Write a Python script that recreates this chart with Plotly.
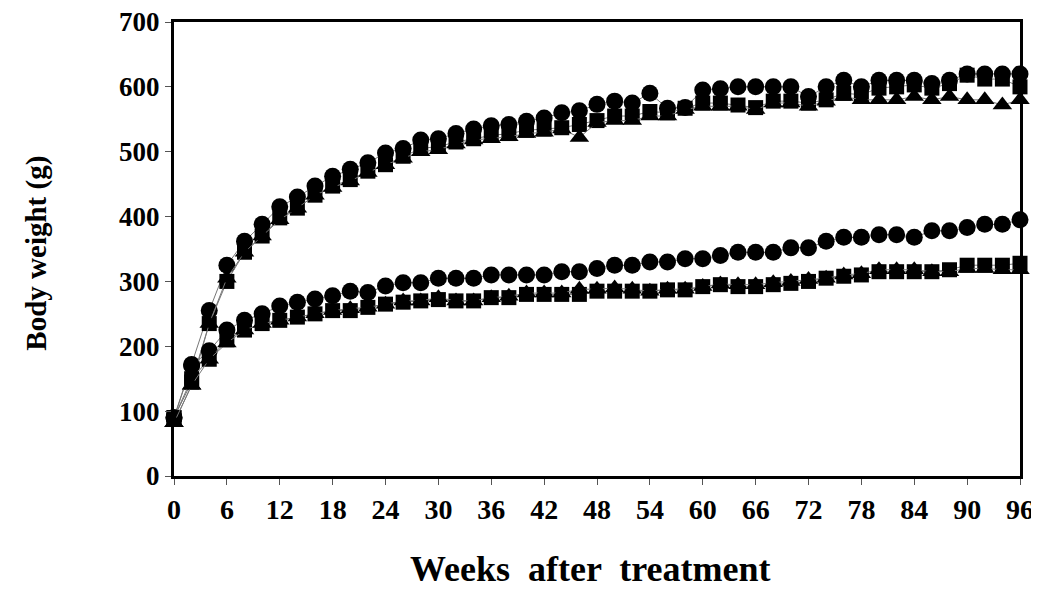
import plotly.graph_objects as go

weeks = list(range(0, 97, 2))

male_circle = [90, 172, 255, 325, 362, 388, 415, 430, 447, 462, 473, 483, 498, 505, 518, 520, 528, 535, 540, 542,
               547, 552, 560, 563, 573, 578, 575, 590, 567, 568, 595, 597, 600, 600, 600, 600, 585, 600, 610, 600,
               610, 610, 610, 605, 610, 620, 620, 620, 620]
male_square = [90, 145, 235, 300, 345, 370, 398, 413, 433, 447, 457, 470, 480, 493, 505, 508, 515, 520, 525, 528,
               533, 535, 537, 542, 548, 555, 555, 562, 560, 567, 575, 575, 572, 568, 578, 578, 575, 580, 590, 588,
               598, 600, 603, 598, 605, 618, 612, 612, 600]
male_triangle = [82, 140, 235, 305, 345, 370, 395, 413, 433, 445, 455, 468, 480, 490, 500, 503, 512, 518, 520, 523,
                 528, 530, 535, 522, 545, 548, 548, 555, 555, 565, 570, 570, 570, 565, 575, 575, 570, 578, 585, 580,
                 580, 580, 585, 580, 585, 580, 580, 572, 580]
female_circle = [90, 170, 193, 225, 240, 250, 262, 268, 273, 278, 285, 283, 293, 298, 298, 305, 305, 305, 310, 310,
                 310, 310, 315, 315, 320, 325, 325, 330, 330, 335, 335, 340, 345, 345, 345, 352, 352, 362, 368, 368,
                 372, 372, 368, 378, 378, 383, 388, 388, 395]
female_square = [90, 150, 180, 210, 225, 235, 240, 245, 250, 255, 255, 260, 265, 268, 270, 272, 270, 270, 275, 275,
                 280, 280, 280, 280, 285, 285, 285, 285, 287, 287, 292, 295, 292, 292, 295, 297, 300, 305, 308, 310,
                 315, 315, 315, 315, 318, 325, 325, 325, 328]
female_triangle = [82, 140, 180, 205, 225, 235, 240, 245, 250, 255, 258, 260, 265, 270, 270, 275, 270, 270, 275, 277,
                   282, 282, 282, 288, 288, 290, 288, 285, 288, 288, 292, 296, 295, 295, 298, 300, 303, 305, 310, 312,
                   318, 318, 318, 315, 315, 320, 320, 318, 318]

x_ticks = list(range(0, 97, 6))
y_ticks = list(range(0, 701, 100))
x_title = "Weeks  after  treatment"
y_title = "Body weight (g)"

series = [
    ("Male circle", male_circle, "circle", 17),
    ("Male square", male_square, "square", 15),
    ("Male triangle", male_triangle, "triangle-up", 17),
    ("Female circle", female_circle, "circle", 17),
    ("Female square", female_square, "square", 15),
    ("Female triangle", female_triangle, "triangle-up", 17),
]

fig = go.Figure()
for name, vals, sym, size in series:
    fig.add_trace(go.Scatter(
        x=weeks, y=vals, name=name, mode="lines+markers",
        line=dict(color="#777777", width=1),
        marker=dict(symbol=sym, size=size, color="black", line=dict(width=0)),
        cliponaxis=False, showlegend=False,
    ))

font_family = "Liberation Serif, Times New Roman, serif"
fig.update_layout(
    width=1039, height=594,
    margin=dict(l=166, r=27, t=14, b=126),
    paper_bgcolor="white", plot_bgcolor="white",
    font=dict(family=font_family, color="black"),
    xaxis=dict(
        range=[0, 96], tickvals=x_ticks, ticktext=[f"<b>{v}</b>" for v in x_ticks],
        ticks="outside", ticklen=6, tickcolor="#555555", tickwidth=1,
        showline=True, linecolor="black", linewidth=3, mirror=True,
        showgrid=False, zeroline=False, automargin=False,
        ticklabeloverflow="allow",
        tickfont=dict(size=28, family=font_family),
    ),
    yaxis=dict(
        range=[0, 700], tickvals=y_ticks, ticktext=[f"<b>{v}</b>" for v in y_ticks],
        ticks="outside", ticklen=6, tickcolor="#555555", tickwidth=1,
        showline=True, linecolor="black", linewidth=3, mirror=True,
        showgrid=False, zeroline=False, automargin=False,
        ticklabeloverflow="allow",
        tickfont=dict(size=27, family=font_family),
    ),
    annotations=[
        dict(text=f"<b>{x_title}</b>", xref="paper", yref="paper", x=0.492, y=-0.205,
             xanchor="center", yanchor="middle", showarrow=False,
             font=dict(size=36, family=font_family, color="black")),
        dict(text=f"<b>{y_title}</b>", xref="paper", yref="paper", x=-0.163, y=0.49,
             xanchor="center", yanchor="middle", showarrow=False, textangle=-90,
             font=dict(size=29, family=font_family, color="black")),
    ],
)

fig.write_html("out.html")
